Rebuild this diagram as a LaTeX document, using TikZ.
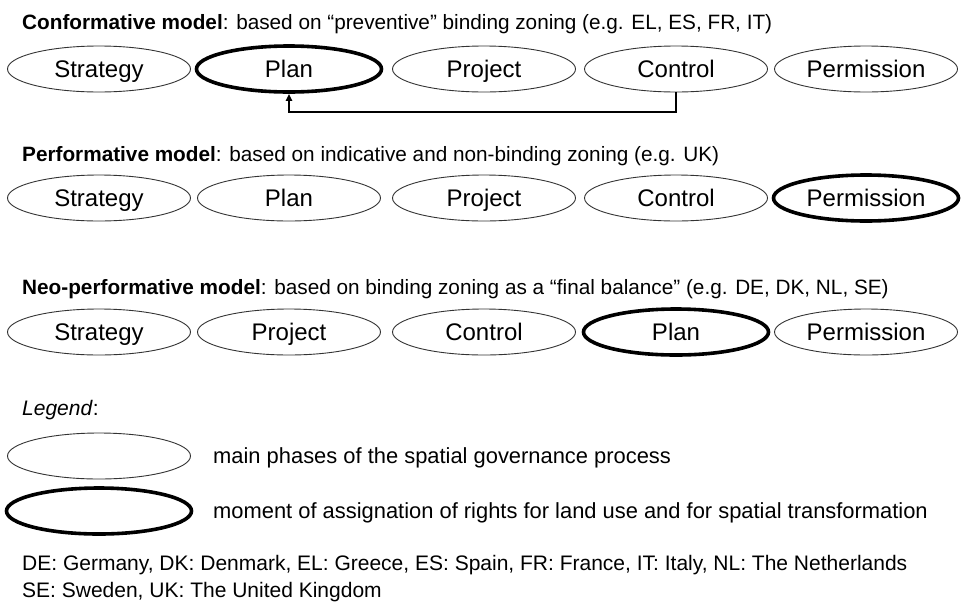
\documentclass[tikz,border=0pt]{standalone}
\usepackage{fontspec}
\setmainfont{Liberation Sans}
\usetikzlibrary{arrows.meta,shapes.geometric}
\begin{document}
\begin{tikzpicture}[x=1pt,y=-1pt,
  phase/.style={draw=black!80,line width=0.9pt,ellipse,minimum width=183pt,minimum height=46pt,inner sep=0pt,
    text height=19pt,text depth=2pt,font=\fontsize{24}{27}\selectfont},
  rights/.style={phase,draw=black,line width=3.6pt,minimum width=185pt},
  title/.style={anchor=base west,inner sep=0pt,font=\fontsize{20.75}{24}\selectfont},
  legendtext/.style={anchor=base west,inner sep=0pt,font=\fontsize{21.9}{25}\selectfont},
  note/.style={anchor=base west,inner sep=0pt,font=\fontsize{21}{24}\selectfont}]
\useasboundingbox (0,0) rectangle (965,603);
% conformative model
\node[title] (t1) at (22,29) {\textbf{Conformative model}: based on “preventive” binding zoning (e.g. EL, ES, FR, IT)};
\node[phase]  (a1) at (99,69)  {Strategy};
\node[rights] (a2) at (289,69) {Plan};
\node[phase]  (a3) at (484,69) {Project};
\node[phase]  (a4) at (676,69) {Control};
\node[phase]  (a5) at (866,69) {Permission};
\coordinate (k) at (676,112);
\draw[line width=2pt,-{Triangle[length=7pt,width=6pt]}] (a4.south) -- (k) -| (a2.south);
% performative model
\node[title] (t2) at (22,161) {\textbf{Performative model}: based on indicative and non-binding zoning (e.g. UK)};
\node[phase]  (b1) at (99,198)  {Strategy};
\node[phase]  (b2) at (289,198) {Plan};
\node[phase]  (b3) at (484,198) {Project};
\node[phase]  (b4) at (676,198) {Control};
\node[rights] (b5) at (866,198) {Permission};
% neo-performative model
\node[title] (t3) at (22,294) {\textbf{Neo-performative model}: based on binding zoning as a “final balance” (e.g. DE, DK, NL, SE)};
\node[phase]  (c1) at (99,332)  {Strategy};
\node[phase]  (c2) at (289,332) {Project};
\node[phase]  (c3) at (484,332) {Control};
\node[rights] (c4) at (676,332) {Plan};
\node[phase]  (c5) at (866,332) {Permission};
% legend
\node[note] (lg) at (22,415) {\textit{Legend}:};
\node[phase]  (l1) at (99,456) {};
\node[legendtext] (l1t) at (213,463) {main phases of the spatial governance process};
\node[rights] (l2) at (99,511) {};
\node[legendtext] (l2t) at (213,518) {moment of assignation of rights for land use and for spatial transformation};
\node[note] (n1) at (22,570) {DE: Germany, DK: Denmark, EL: Greece, ES: Spain, FR: France, IT: Italy, NL: The Netherlands};
\node[note] (n2) at (22,597) {SE: Sweden, UK: The United Kingdom};
\end{tikzpicture}
\end{document}
